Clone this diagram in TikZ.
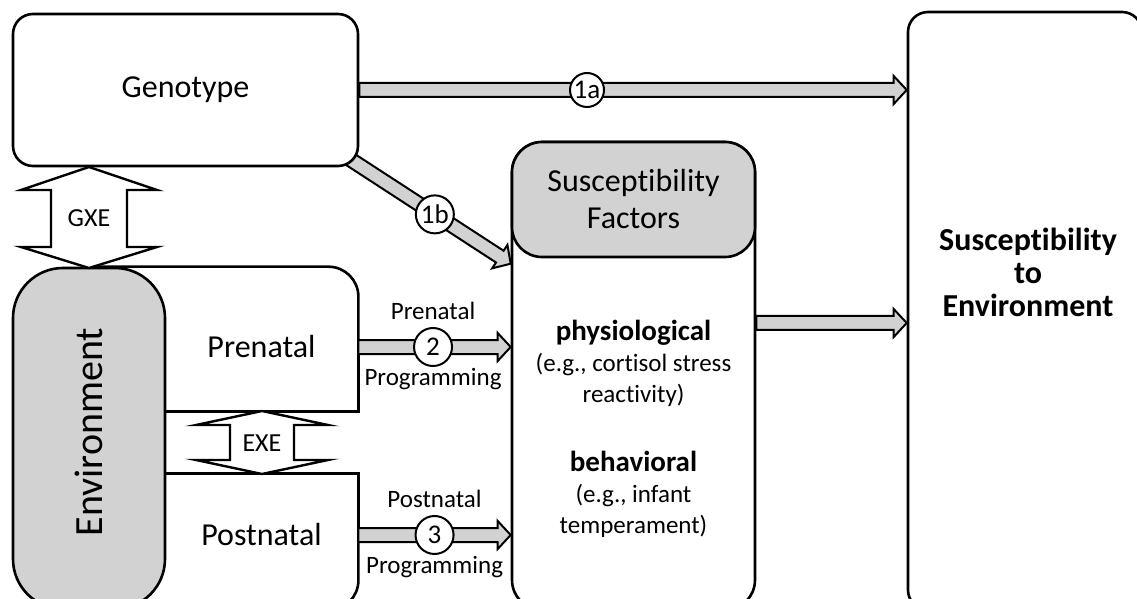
\documentclass[tikz,border=0pt]{standalone}
\usepackage{fontspec}
\setmainfont[Ligatures=NoCommon]{Carlito}
\usetikzlibrary{calc,positioning,backgrounds}

\tikzset{
  box/.style={draw, line width=1.3pt, rounded corners=10pt, inner sep=0pt, fill=white},
  graybox/.style={box, fill=gray!35},
  blockarr/.style={draw, line width=1pt, fill=gray!35, line join=miter},
  dblarr/.style={draw, line width=1.2pt, fill=white, line join=miter},
  numcirc/.style={circle, draw, line width=1pt, fill=white, inner sep=0pt, minimum size=19pt, font=\fontsize{13.5}{15}\selectfont},
  lbl/.style={inner sep=0pt, font=\fontsize{12.5}{14}\selectfont},
  bigtxt/.style={align=center, font=\fontsize{16}{18.5}\selectfont},
}

% block arrow from #1 to #2
\newcommand{\blockarrow}[2]{%
  \coordinate (hb) at ($(#2)!6.5pt!(#1)$);
  \draw[blockarr] ($(#1)!3.5pt!90:(#2)$) -- ($(hb)!3.5pt!90:(#2)$) -- ($(hb)!7pt!90:(#2)$)
    -- (#2) -- ($(hb)!7pt!-90:(#2)$) -- ($(hb)!3.5pt!-90:(#2)$) -- ($(#1)!3.5pt!-90:(#2)$) -- cycle;}

\begin{document}
\begin{tikzpicture}[x=0.5pt, y=-0.5pt]
  \useasboundingbox (0,0) rectangle (1137,599);
  \clip (0,0) rectangle (1137,599);

  % Boxes
  \node[box, minimum width=172.5pt, minimum height=76pt, bigtxt] (geno) at (185.5,90) {Genotype};
  \node[box, minimum width=117pt, minimum height=299pt] (suscenv) at (1025,311) {};
  \node[align=center, font=\fontsize{16}{16.5}\selectfont\bfseries] (suscenvtxt) at (1028,272) {Susceptibility\\to\\Environment};
  \node[box, rounded corners=15pt, minimum width=121.5pt, minimum height=234pt] (sf) at (633.5,376) {};
  \node[graybox, rounded corners=15pt, minimum width=121.5pt, minimum height=57.5pt, bigtxt] (sfhead) at (633.5,199.5) {Susceptibility\\Factors};
  \node[align=center, font=\fontsize{12.5}{15.5}\selectfont] (physio) at (633.5,363)
    {{\fontsize{14.5}{17}\selectfont\bfseries physiological}\\(e.g., cortisol stress\\reactivity)};
  \node[align=center, font=\fontsize{12.5}{15.5}\selectfont] (behav) at (633.5,494)
    {{\fontsize{14.5}{17}\selectfont\bfseries behavioral}\\(e.g., infant\\temperament)};

  % Environment
  \node[graybox, rounded corners=25pt, minimum width=76pt, minimum height=170.5pt, font=\fontsize{20}{22}\selectfont] (envpill) at (89,438.5)
    {\rotatebox{90}{\hspace{6.5pt}Environment}};
  \node[minimum width=96.5pt, minimum height=64pt, inner sep=0pt, bigtxt] (pre) at (261.5,347) {Prenatal};
  \node[minimum width=96.5pt, minimum height=61pt, inner sep=0pt, bigtxt] (post) at (261.5,535) {Postnatal};
  \draw[line width=1.3pt, rounded corners=15pt] (envpill.north) -- (envpill.north -| pre.east) -- (pre.east);
  \draw[line width=1.3pt] (pre.east) -- (pre.south east) -- (pre.south west);
  \draw[line width=1.3pt] (post.north west) -- (post.north east) -- (post.east);
  \draw[line width=1.3pt, rounded corners=15pt] (post.east) -- (post.east |- envpill.south) -- (envpill.south);

  % GXE and EXE
  \draw[dblarr] (89,167) -- ++(68,23) -- ++(-30,0) -- ++(0,57) -- ++(30,0) -- (89,268)
    -- ++(-68,-21) -- ++(30,0) -- ++(0,-57) -- ++(-30,0) -- cycle;
  \node[font=\fontsize{13}{15}\selectfont] (gxe) at (89,218) {GXE};
  \draw[dblarr] (262,411) -- ++(66,14) -- ++(-34,0) -- ++(0,35) -- ++(34,0) -- (262,474)
    -- ++(-66,-14) -- ++(34,0) -- ++(0,-35) -- ++(-34,0) -- cycle;
  \node[font=\fontsize{13}{15}\selectfont] (exe) at (262,443) {EXE};

  % Arrows
  \coordinate (a1end) at (suscenv.west |- geno.east);
  \blockarrow{geno.east}{a1end}
  \path (geno.east) -- (a1end) node[numcirc, minimum size=17pt, pos=0.416] (c1a) {1a};

  \coordinate (g1b) at ($(geno.south east)+(-23,-17)$);
  \coordinate (sf1b) at ($(sf.north west)+(0,123)$);
  \begin{scope}[on background layer]
    \blockarrow{g1b}{sf1b}
  \end{scope}
  \path (g1b) -- (sf1b) node[numcirc, pos=0.565] (c1b) {1b};

  \coordinate (pre2end) at (pre.east -| sf.west);
  \blockarrow{pre.east}{pre2end}
  \path (pre.east) -- (pre2end) node[numcirc, pos=0.49] (c2) {2};
  \node[lbl, above=3.5pt of c2] (c2top) {Prenatal};
  \node[lbl, below=0.5pt of c2] (c2bot) {Programming};

  \coordinate (post3end) at (post.east -| sf.west);
  \blockarrow{post.east}{post3end}
  \path (post.east) -- (post3end) node[numcirc, pos=0.5] (c3) {3};
  \node[lbl, above=3.5pt of c3] (c3top) {Postnatal};
  \node[lbl, below=0.5pt of c3] (c3bot) {Programming};

  \coordinate (sfout) at ($(sf.east)+(0,-53)$);
  \coordinate (sfoutend) at (sfout -| suscenv.west);
  \blockarrow{sfout}{sfoutend}
\end{tikzpicture}
\end{document}
